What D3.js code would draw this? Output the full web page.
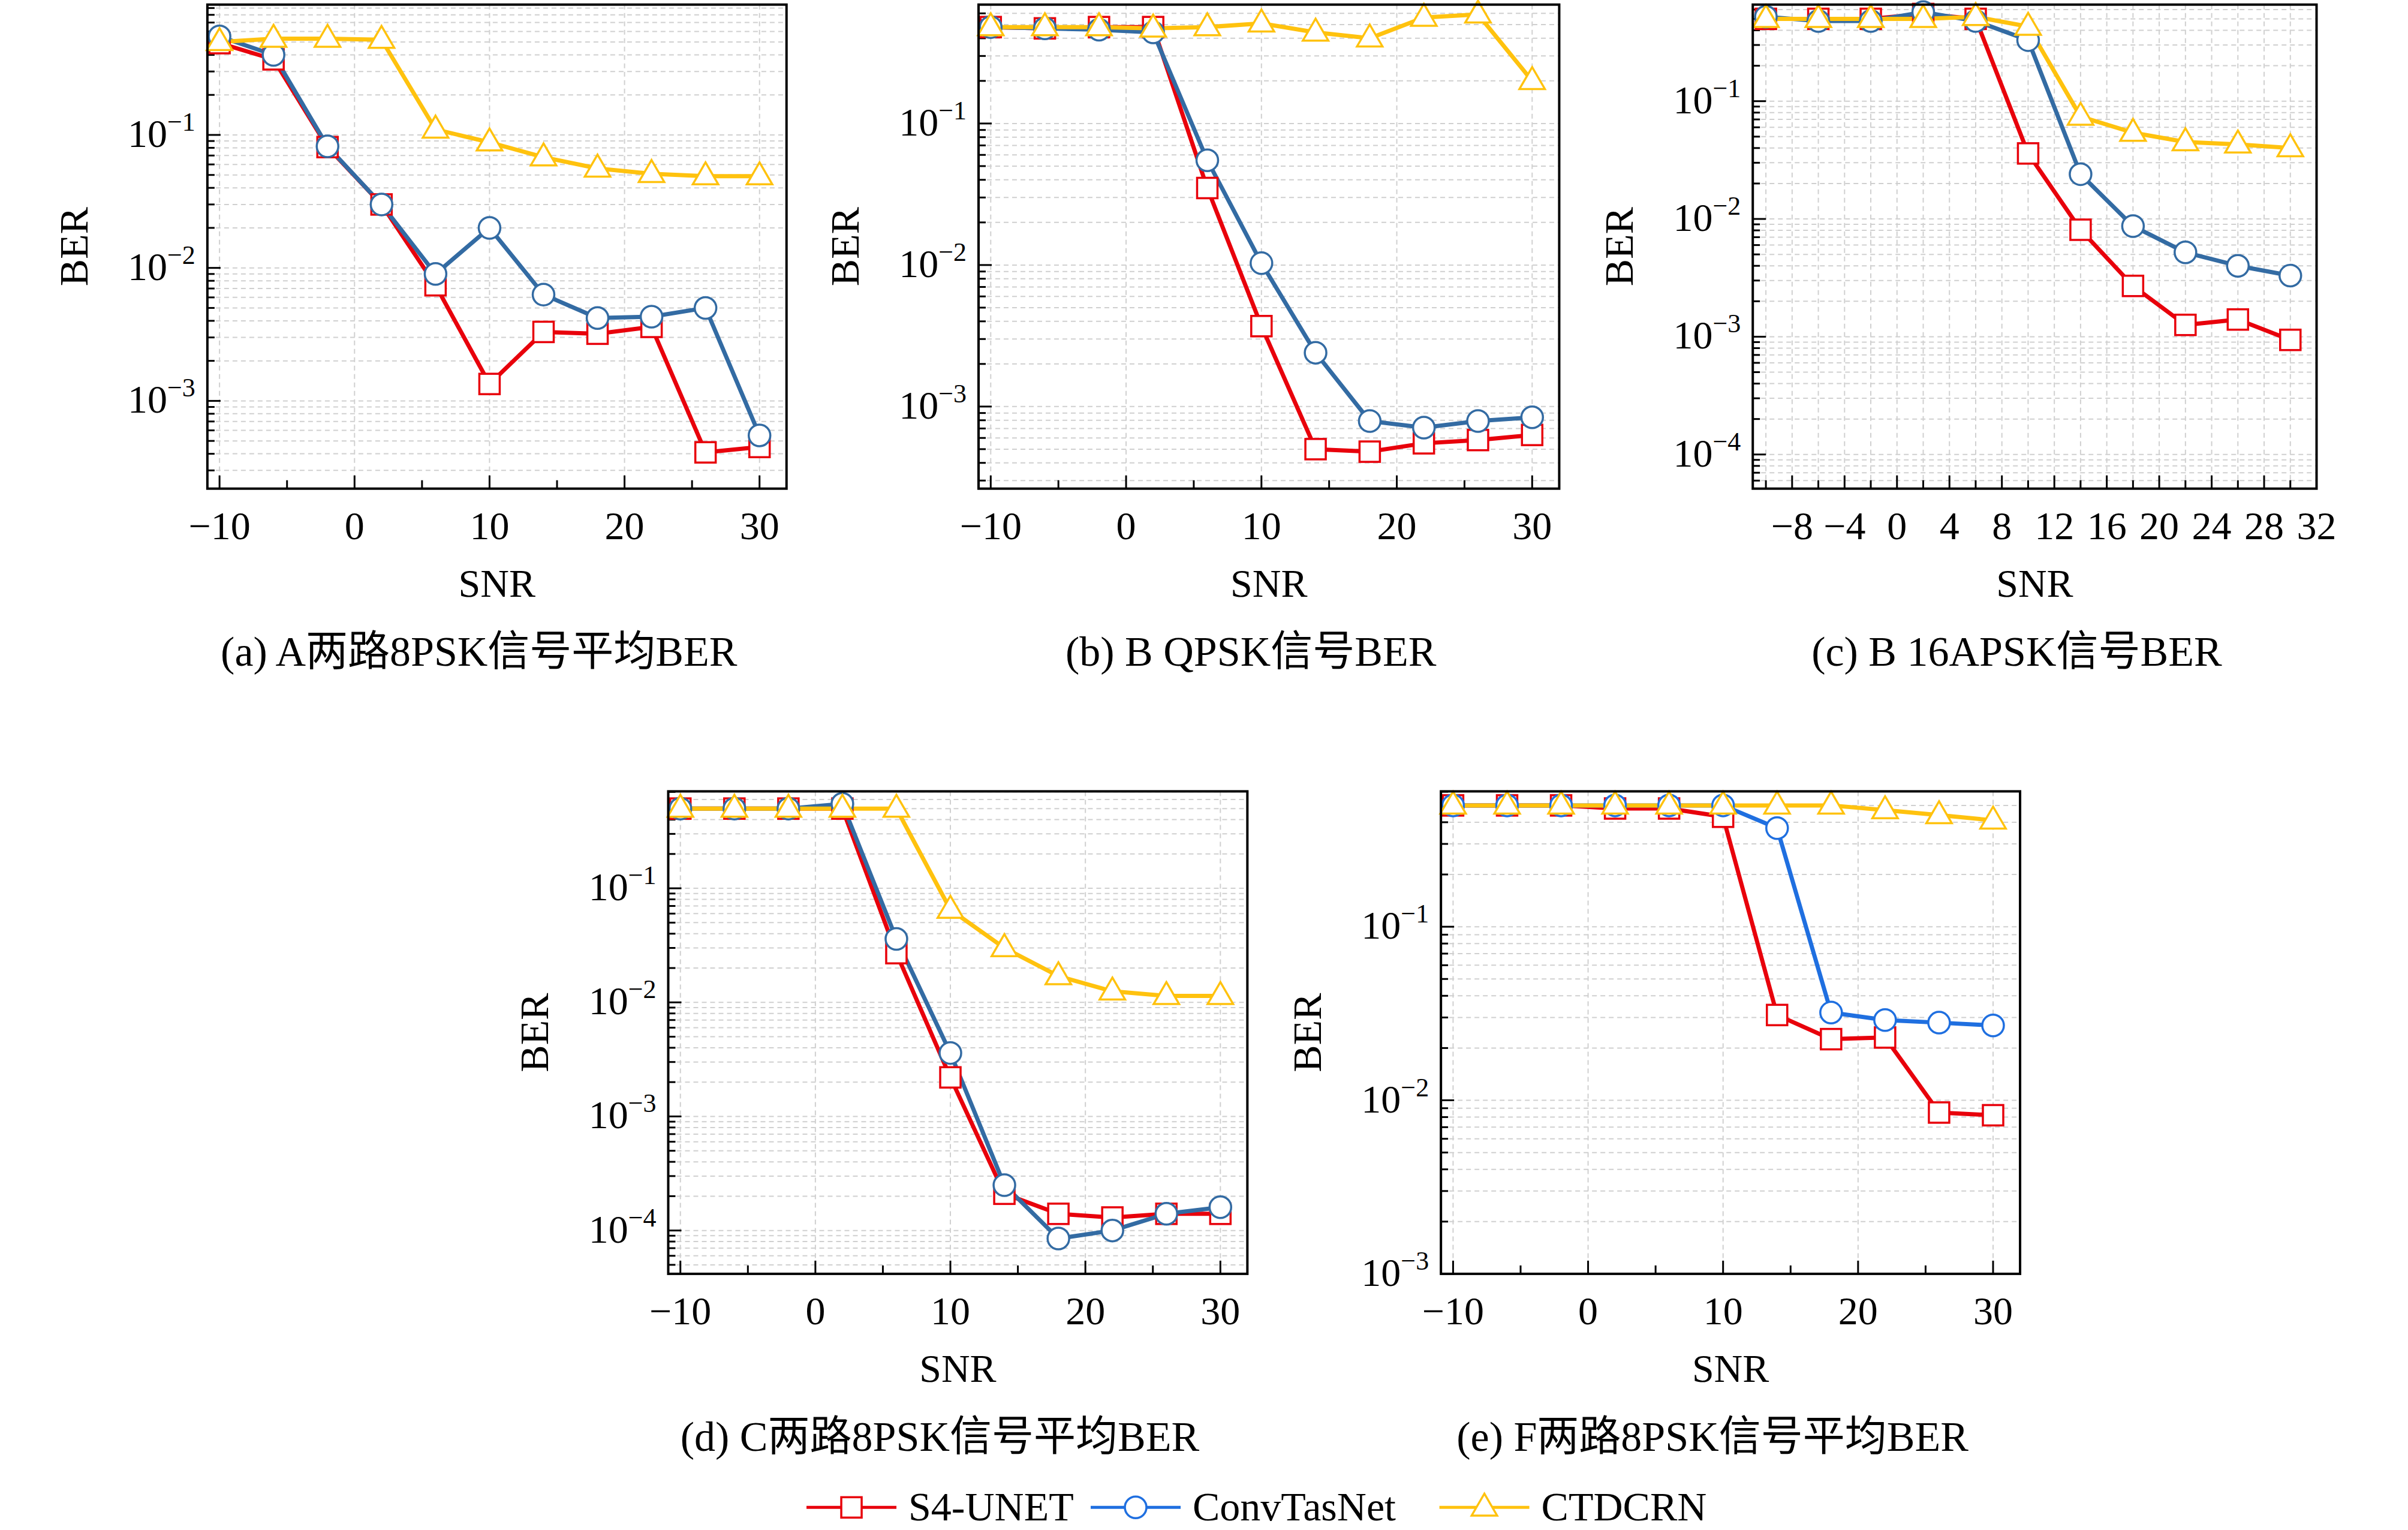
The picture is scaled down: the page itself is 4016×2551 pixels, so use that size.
<!DOCTYPE html>
<html><head><meta charset="utf-8">
<script src="https://cdn.jsdelivr.net/npm/d3@7"></script>
<style>body{margin:0;background:#fff}</style>
</head><body>
<svg id="chart" width="4016" height="2551"></svg>
<script>
// SNR points shared by every panel
var snr = [-10, -6, -2, 2, 6, 10, 14, 18, 22, 26, 30];

var aRed = [0.49, 0.37, 0.081, 0.030, 0.0074, 0.00134, 0.0033, 0.0032, 0.0036, 0.00041, 0.00045];
var aBlue = [0.55, 0.40, 0.082, 0.030, 0.009, 0.020, 0.0063, 0.0042, 0.0043, 0.0050, 0.00055];
var aYellow = [0.50, 0.53, 0.53, 0.52, 0.11, 0.088, 0.068, 0.056, 0.051, 0.049, 0.049];

var bRed = [0.48, 0.47, 0.48, 0.48, 0.035, 0.0037, 0.0005, 0.00048, 0.00055, 0.00058, 0.00063];
var bBlue = [0.48, 0.47, 0.46, 0.44, 0.055, 0.0103, 0.0024, 0.00079, 0.00071, 0.00079, 0.00084];
var bYellow = [0.48, 0.48, 0.48, 0.47, 0.48, 0.51, 0.44, 0.40, 0.56, 0.59, 0.20];

var cRed = [0.50, 0.50, 0.50, 0.55, 0.50, 0.036, 0.0081, 0.0027, 0.00126, 0.0014, 0.00094];
var cBlue = [0.52, 0.48, 0.48, 0.57, 0.48, 0.33, 0.024, 0.0087, 0.0052, 0.0040, 0.0033];
var cYellow = [0.50, 0.50, 0.50, 0.50, 0.52, 0.43, 0.074, 0.054, 0.045, 0.043, 0.040];

var dRed = [0.50, 0.50, 0.50, 0.50, 0.027, 0.0022, 0.00021, 0.00014, 0.00013, 0.00014, 0.00014];
var dBlue = [0.50, 0.50, 0.50, 0.55, 0.036, 0.0036, 0.00025, 0.000085, 0.0001, 0.00014, 0.00016];
var dYellow = [0.50, 0.50, 0.50, 0.50, 0.50, 0.065, 0.030, 0.017, 0.0125, 0.0114, 0.0114];

var eRed = [0.50, 0.50, 0.50, 0.48, 0.48, 0.43, 0.031, 0.0225, 0.023, 0.0085, 0.0082];
var eBlue = [0.50, 0.50, 0.50, 0.50, 0.50, 0.50, 0.37, 0.032, 0.029, 0.028, 0.027];
var eYellow = [0.50, 0.50, 0.50, 0.50, 0.50, 0.50, 0.50, 0.50, 0.47, 0.44, 0.41];

var seriesNames = ["S4-UNET", "ConvTasNet", "CTDCRN"];
var captions = ["(a) A两路8PSK信号平均BER", "(b) B QPSK信号BER", "(c) B 16APSK信号BER",
  "(d) C两路8PSK信号平均BER", "(e) F两路8PSK信号平均BER"];

var S = 2.562;
var RED = "#e8000b", BLUE = "#336ba3", BLUE2 = "#1f6fe0", YEL = "#ffc20e";
var serif = "'Liberation Serif','DejaVu Serif',serif";
var cjk = "'Liberation Serif','Noto Sans CJK SC',serif";

var svg = d3.select("#chart");

var panels = [
  {x0: 135, x1: 512, y0: 3, y1: 318, xd: [-10.9, 32], yd: [-3.66, -0.02], xt: [-10, 0, 10, 20, 30], xm: 5, dec: [-3, -1], data: [aRed, aBlue, aYellow], blue: BLUE},
  {x0: 637, x1: 1015, y0: 3, y1: 318, xd: [-10.9, 32], yd: [-3.58, -0.16], xt: [-10, 0, 10, 20, 30], xm: 5, dec: [-3, -1], data: [bRed, bBlue, bYellow], blue: BLUE},
  {x0: 1141, x1: 1508, y0: 3, y1: 318, xd: [-11, 32], yd: [-4.29, -0.18], xt: [-8, -4, 0, 4, 8, 12, 16, 20, 24, 28, 32], xm: 2, dec: [-4, -1], data: [cRed, cBlue, cYellow], blue: BLUE},
  {x0: 435, x1: 812, y0: 515, y1: 829, xd: [-10.9, 32], yd: [-4.38, -0.15], xt: [-10, 0, 10, 20, 30], xm: 5, dec: [-4, -1], data: [dRed, dBlue, dYellow], blue: BLUE},
  {x0: 938, x1: 1315, y0: 515, y1: 829, xd: [-10.9, 32], yd: [-3, -0.22], xt: [-10, 0, 10, 20, 30], xm: 5, dec: [-3, -1], data: [eRed, eBlue, eYellow], blue: BLUE2}
];

function marker(g, type, x, y, color) {
  var r = 17;
  if (type === 0) g.append("rect").attr("x", x - r).attr("y", y - r).attr("width", 2 * r).attr("height", 2 * r)
    .attr("fill", "#fff").attr("stroke", color).attr("stroke-width", 3.5);
  else if (type === 1) g.append("circle").attr("cx", x).attr("cy", y).attr("r", r + 1)
    .attr("fill", "#fff").attr("stroke", color).attr("stroke-width", 3.5);
  else g.append("path").attr("d", `M${x},${y - r * 1.35}L${x + r * 1.25},${y + r * 0.8}L${x - r * 1.25},${y + r * 0.8}Z`)
    .attr("fill", "#fff").attr("stroke", color).attr("stroke-width", 3.5);
}

panels.forEach(function(p, pi) {
  var x = d3.scaleLinear().domain(p.xd).range([p.x0 * S, p.x1 * S]);
  var y = d3.scaleLog().domain([Math.pow(10, p.yd[0]), Math.pow(10, p.yd[1])]).range([p.y1 * S, p.y0 * S]);
  var g = svg.append("g");
  var X0 = p.x0 * S, X1 = p.x1 * S, Y0 = p.y0 * S, Y1 = p.y1 * S;

  // grid
  var ygrid = [];
  for (var e = -5; e <= 0; e++) for (var m = 1; m < 10; m++) {
    var v = m * Math.pow(10, e);
    if (v >= y.domain()[0] && v <= y.domain()[1]) ygrid.push({v: v, major: m === 1});
  }
  g.selectAll(".yg").data(ygrid).join("line").attr("x1", X0).attr("x2", X1)
    .attr("y1", d => y(d.v)).attr("y2", d => y(d.v))
    .attr("stroke", "#d0d0d0").attr("stroke-width", 2).attr("stroke-dasharray", "8,6");
  var xg = d3.range(Math.ceil(p.xd[0] / p.xm) * p.xm, p.xd[1] + 0.01, p.xm);
  var xGridVals = p.xm === 2 ? xg : p.xt;
  g.selectAll(".xg").data(xGridVals).join("line").attr("y1", Y0).attr("y2", Y1)
    .attr("x1", d => x(d)).attr("x2", d => x(d))
    .attr("stroke", "#d0d0d0").attr("stroke-width", 2).attr("stroke-dasharray", "8,6");

  // ticks (inward)
  g.selectAll(".xt").data(xg).join("line").attr("x1", d => x(d)).attr("x2", d => x(d))
    .attr("y1", Y1).attr("y2", d => Y1 - (p.xt.indexOf(d) >= 0 ? 22 : 14)).attr("stroke", "#000").attr("stroke-width", 3);
  g.selectAll(".yt").data(ygrid).join("line").attr("x1", X0).attr("x2", d => X0 + (d.major ? 22 : 12))
    .attr("y1", d => y(d.v)).attr("y2", d => y(d.v)).attr("stroke", "#000").attr("stroke-width", 3);

  // tick labels
  g.selectAll(".xl").data(p.xt).join("text").attr("x", d => x(d)).attr("y", Y1 + 84)
    .attr("text-anchor", "middle").attr("font-family", serif).attr("font-size", 66)
    .text(d => d < 0 ? "\u2212" + (-d) : d);
  var decs = d3.range(p.dec[0], p.dec[1] + 1).filter(d => Math.pow(10, d) >= y.domain()[0] * 0.999);
  decs.forEach(function(d) {
    var t = g.append("text").attr("x", X0 - 20).attr("y", y(Math.pow(10, d)) + 20)
      .attr("text-anchor", "end").attr("font-family", serif).attr("font-size", 66);
    t.append("tspan").text("10");
    t.append("tspan").attr("dy", -27).attr("font-size", 44).text("\u2212" + (-d));
  });

  // axis titles
  g.append("text").attr("x", (X0 + X1) / 2).attr("y", Y1 + 180).attr("text-anchor", "middle")
    .attr("font-family", serif).attr("font-size", 66).text("SNR");
  g.append("text").attr("transform", `translate(${X0 - 200},${(Y0 + Y1) / 2}) rotate(-90)`)
    .attr("text-anchor", "middle").attr("font-family", serif).attr("font-size", 68).text("BER");
  g.append("text").attr("x", (X0 + X1) / 2 - 30).attr("y", Y1 + 295).attr("text-anchor", "middle")
    .attr("font-family", cjk).attr("font-size", 70).text(captions[pi]);

  // series
  var colors = [RED, p.blue, YEL];
  var line = d3.line().x((d, i) => x(snr[i])).y(d => y(d));
  [0, 1, 2].forEach(function(si) {
    g.append("path").datum(p.data[si]).attr("d", line).attr("fill", "none")
      .attr("stroke", colors[si]).attr("stroke-width", 7).attr("stroke-linejoin", "round");
  });
  [0, 1, 2].forEach(function(si) {
    p.data[si].forEach(function(v, i) { marker(g, si, x(snr[i]), y(v), colors[si]); });
  });

  g.append("rect").attr("x", X0).attr("y", Y0).attr("width", X1 - X0).attr("height", Y1 - Y0)
    .attr("fill", "none").attr("stroke", "#000").attr("stroke-width", 4);
});

// legend
var legX = [525, 710, 937];
var legColors = [RED, BLUE2, YEL];
seriesNames.forEach(function(n, i) {
  var lx = legX[i] * S, ly = 981 * S;
  svg.append("line").attr("x1", lx).attr("x2", lx + 150).attr("y1", ly).attr("y2", ly)
    .attr("stroke", legColors[i]).attr("stroke-width", 5);
  marker(svg, i, lx + 75, ly, legColors[i]);
  svg.append("text").attr("x", lx + 170).attr("y", ly + 22).attr("font-family", serif)
    .attr("font-size", 68).text(n);
});
</script>
</body></html>
